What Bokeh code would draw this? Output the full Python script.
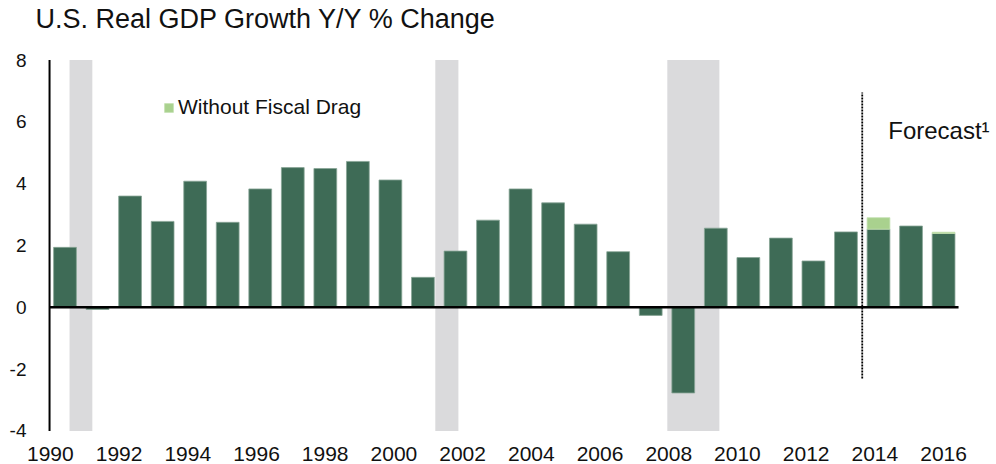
import numpy as np
from bokeh.plotting import figure
from bokeh.models import (ColumnDataSource, LabelSet, Legend, LegendItem,
                          FixedTicker, Range1d)
from bokeh.embed import file_html
from bokeh.resources import INLINE
from bokeh.core.properties import value

# ---------------- data ----------------
years = list(range(1990, 2018))
gdp_growth = [1.94, -0.07, 3.60, 2.78, 4.08, 2.75, 3.83, 4.52, 4.49, 4.72,
              4.12, 0.97, 1.82, 2.82, 3.83, 3.38, 2.69, 1.80, -0.26, -2.77,
              2.56, 1.61, 2.24, 1.50, 2.44, 2.53, 2.63, 2.39]

drag_years = [2015, 2017]
without_fiscal_drag = [2.90, 2.43]

recession_start = [1990.14, 2001.38, 2008.51]
recession_end = [1990.84, 2002.09, 2010.11]

forecast_start = 2014.5

x_tick_labels = ["1990", "1992", "1994", "1996", "1998", "2000", "2002",
                 "2004", "2006", "2008", "2010", "2012", "2014", "2016"]
y_ticks = [-4, -2, 0, 2, 4, 6, 8]
y_tick_labels = ["-4", "-2", "0", "2", "4", "6", "8"]

title_text = "U.S. Real GDP Growth Y/Y % Change"
legend_text = "Without Fiscal Drag"
forecast_text = "Forecast\u00b9"

# ---------------- layout / style ----------------
FONT = "Liberation Sans"
DARK = "#3E6B56"
LIGHT = "#A9D18E"
SHADE = "#DADADC"
TEXT = "#111111"

W, H = 996, 464
LEFT = 33                      # left border (y tick labels)
BOTTOM = 33                    # bottom border (x tick labels)
PX_X = 32.54                   # pixels per year
PX_Y = 30.9                    # pixels per percentage point
Y_MIN, Y_MAX = -4, 8
FIRST_BAR_PX = 64.5            # canvas x of first bar centre
TOP_PX, BOTTOM_PX = 59.5, 430.5  # canvas y of Y_MAX and Y_MIN

frame_bottom = H - BOTTOM
x_start = years[0] - (FIRST_BAR_PX - LEFT) / PX_X
x_end = years[0] + (W - FIRST_BAR_PX) / PX_X
y_start = Y_MIN - (frame_bottom - BOTTOM_PX) / PX_Y
y_end = Y_MAX + TOP_PX / PX_Y
axis_x = years[0] - 0.475       # where the vertical axis line sits


def px_to_y(py):
    return Y_MAX - (py - TOP_PX) / PX_Y


def px_to_x(px):
    return x_start + (px - LEFT) / PX_X


p = figure(width=W, height=H, output_backend="svg", toolbar_location=None,
           x_range=Range1d(x_start, x_end), y_range=Range1d(y_start, y_end),
           min_border=0, min_border_left=LEFT, min_border_bottom=BOTTOM)
p.outline_line_color = None
p.xgrid.visible = False
p.ygrid.visible = False
p.background_fill_color = "white"
p.border_fill_color = "white"

# recession shading
p.quad(left=recession_start, right=recession_end, bottom=Y_MIN, top=Y_MAX,
       fill_color=SHADE, line_color=None)

# bars
gdp_lookup = dict(zip(years, gdp_growth))
p.vbar(x=years, bottom=0, top=gdp_growth, width=0.7, fill_color=DARK,
       line_color="#88a596", line_width=0.8)
drag = p.vbar(x=drag_years, bottom=[gdp_lookup[y] for y in drag_years],
              top=without_fiscal_drag, width=0.7, fill_color=LIGHT,
              line_color="#c3e0b0", line_width=0.8)

# vertical axis line and zero line
p.segment(x0=axis_x, x1=axis_x, y0=Y_MIN, y1=Y_MAX, line_color="black",
          line_width=2)
p.segment(x0=axis_x, x1=years[-1] + 0.46, y0=0, y1=0, line_color="black",
          line_width=2.5)

# forecast divider
p.segment(x0=forecast_start, x1=forecast_start, y0=-2.3, y1=6.95,
          line_color="black", line_width=1.8, line_dash="2 1")

# y axis (labels only)
yax = p.yaxis[0]
yax.ticker = FixedTicker(ticks=y_ticks)
yax.major_label_overrides = {t: l for t, l in zip(y_ticks, y_tick_labels)}
yax.axis_line_color = None
yax.major_tick_line_color = None
yax.minor_tick_line_color = None
yax.major_label_standoff = 1
yax.major_label_text_font = FONT
yax.major_label_text_font_size = "19px"
yax.major_label_text_color = TEXT

# x axis: labels spread evenly under the bars, as in the source
label_pos = [float(v) for v in
             np.linspace(years[0] - 0.45, years[-1], len(x_tick_labels))]
xax = p.xaxis[0]
xax.ticker = FixedTicker(ticks=label_pos)
xax.major_label_overrides = {t: l for t, l in zip(label_pos, x_tick_labels)}
xax.axis_line_color = None
xax.major_tick_line_color = None
xax.minor_tick_line_color = None
xax.major_label_standoff = 9
xax.major_label_text_font = FONT
xax.major_label_text_font_size = "21px"
xax.major_label_text_color = TEXT

# title
tsrc = ColumnDataSource(dict(x=[px_to_x(35)], y=[px_to_y(27)],
                             text=[title_text]))
p.add_layout(LabelSet(x="x", y="y", text="text", source=tsrc,
                      text_align="left", text_baseline="alphabetic",
                      text_font=value(FONT), text_font_size="27px",
                      text_color=TEXT))

# forecast label
fsrc = ColumnDataSource(dict(x=[forecast_start + 0.8], y=[px_to_y(138)],
                             text=[forecast_text]))
p.add_layout(LabelSet(x="x", y="y", text="text", source=fsrc,
                      text_align="left", text_baseline="alphabetic",
                      text_font=value(FONT), text_font_size="24px",
                      text_color=TEXT))

# legend
legend = Legend(items=[LegendItem(label=legend_text, renderers=[drag])],
                location=(163 - LEFT, frame_bottom - 119), padding=0, margin=0,
                spacing=0, glyph_width=11, glyph_height=11, label_standoff=4,
                label_text_font=FONT, label_text_font_size="21px",
                label_text_color=TEXT, border_line_color=None,
                background_fill_alpha=0)
p.add_layout(legend)

open("out.html", "w").write(file_html(p, INLINE))
